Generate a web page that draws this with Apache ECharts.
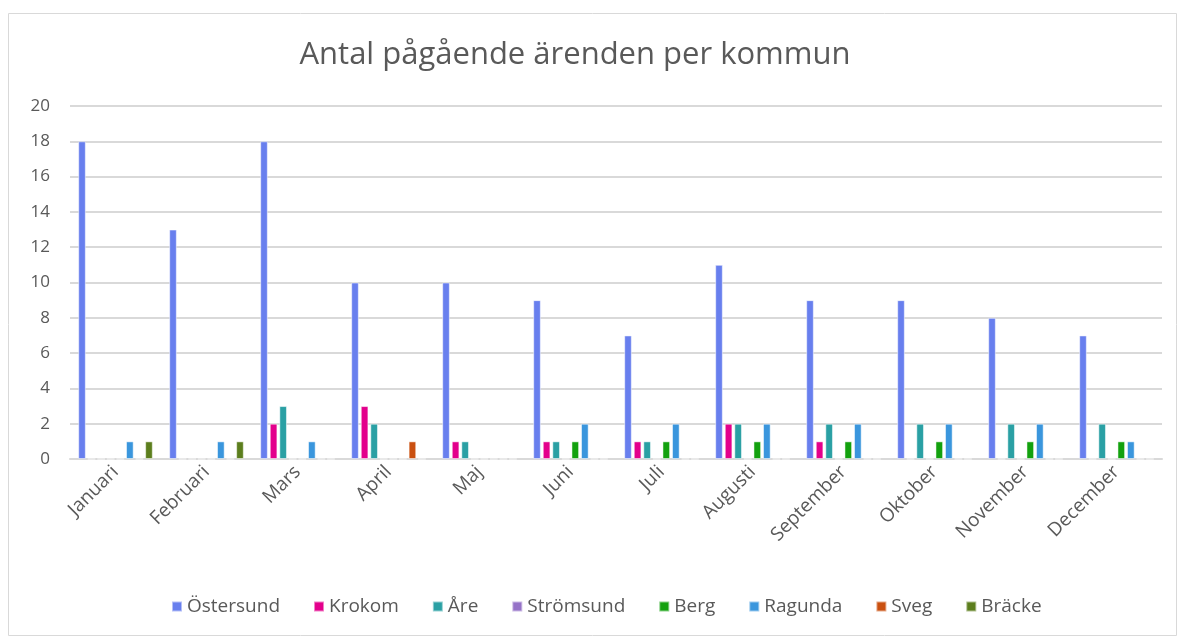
<!DOCTYPE html>
<html><head><meta charset="utf-8">
<script src="https://cdn.jsdelivr.net/npm/echarts@6/dist/echarts.min.js"></script>
<style>html,body{margin:0;padding:0;background:#fff}#c{width:1186px;height:637px}</style>
</head><body><div id="c"></div>
<script>
const months = ['Januari','Februari','Mars','April','Maj','Juni','Juli','Augusti','September','Oktober','November','December'];
const seriesNames = ['Östersund','Krokom','Åre','Strömsund','Berg','Ragunda','Sveg','Bräcke'];
const ostersund = [18,13,18,10,10,9,7,11,9,9,8,7];
const krokom    = [0,0,2,3,1,1,1,2,1,0,0,0];
const are       = [0,0,3,2,1,1,1,2,2,2,2,2];
const stromsund = [0,0,0,0,0,0,0,0,0,0,0,0];
const berg      = [0,0,0,0,0,1,1,1,1,1,1,1];
const ragunda   = [1,1,1,0,0,2,2,2,2,2,2,1];
const sveg      = [0,0,0,1,0,0,0,0,0,0,0,0];
const bracke    = [1,1,0,0,0,0,0,0,0,0,0,0];
const yTicks = [0,2,4,6,8,10,12,14,16,18,20];
const colors = ['#687FEE','#E3008C','#2AA0A4','#9673C8','#13A10E','#3A96DD','#CA5010','#5C7E1D'];
const allData = [ostersund,krokom,are,stromsund,berg,ragunda,sveg,bracke];

const font = '"Open Sans", sans-serif';
const chart = echarts.init(document.getElementById('c'));
chart.setOption({
  animation:false,
  color: colors,
  graphic:[{type:'rect',shape:{x:8.5,y:13.5,width:1168,height:622},style:{fill:'none',stroke:'#d9d9d9',lineWidth:1}}],
  title:{text:'Antal pågående ärenden per kommun',left:570,top:35,textAlign:'center',
    textStyle:{fontFamily:font,fontSize:31,fontWeight:'normal',color:'#595959'}},
  legend:{bottom:16,left:166,itemWidth:10,itemHeight:10,itemGap:33,icon:'rect',
    textStyle:{fontFamily:font,fontSize:19,color:'#595959'},data:seriesNames},
  grid:{left:70,right:24,top:106,bottom:178},
  xAxis:{type:'category',data:months,
    axisLine:{lineStyle:{color:'#d9d9d9',width:2}},axisTick:{show:false},
    axisLabel:{rotate:45,fontFamily:font,fontSize:19,color:'#595959',margin:10,interval:0}},
  yAxis:{type:'value',min:yTicks[0],max:yTicks[yTicks.length-1],interval:2,
    axisLine:{show:false},axisTick:{show:false},
    splitLine:{lineStyle:{color:'#d9d9d9',width:2}},
    axisLabel:{fontFamily:font,fontSize:17,color:'#595959',margin:20}},
  series: seriesNames.map((n,i)=>({name:n,type:'bar',data:allData[i],barGap:'25%',barCategoryGap:'18%',
    itemStyle:{borderColor:'rgba(255,255,255,0.5)',borderWidth:1}}))
});
</script></body></html>
